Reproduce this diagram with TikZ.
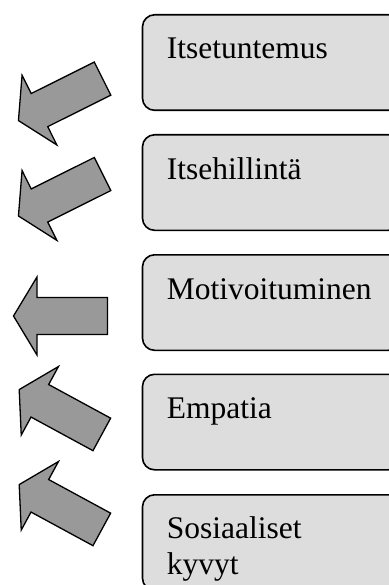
\documentclass[tikz,border=0pt]{standalone}
\usepackage{fontspec}
\setmainfont{Liberation Serif}
\definecolor{boxfill}{HTML}{DDDDDD}
\definecolor{arrowfill}{HTML}{999999}
\tikzset{
  x=1pt, y=1pt,
  topicbox/.style={draw=black, line width=1.6pt, fill=boxfill, rounded corners=12pt,
    minimum width=258pt, minimum height=95.5pt, inner sep=0pt, anchor=north west},
  topiclabel/.style={font=\fontsize{31.5}{37}\selectfont, inner sep=0pt, anchor=base west},
  bigarrow/.pic={
    \draw[line width=1.3pt, line join=miter, fill=arrowfill]
      (-47,0) -- (-23.5,39) -- (-23.5,18.5) -- (47,18.5)
      -- (47,-18.5) -- (-23.5,-18.5) -- (-23.5,-39) -- cycle;
  }
}
\begin{document}
\begin{tikzpicture}
  \useasboundingbox (0,0) rectangle (388,-585);
  % topic boxes, running off the right edge
  \node[topicbox] (b1) at (141.7,-14) {};
  \node[topicbox] (b2) at (141.7,-134) {};
  \node[topicbox] (b3) at (141.7,-254) {};
  \node[topicbox] (b4) at (141.7,-373.5) {};
  \node[topicbox] (b5) at (141.7,-494) {};
  % labels
  \node[topiclabel] (t1) at ([shift={(25,-45)}]b1.north west) {Itsetuntemus};
  \node[topiclabel] (t2) at ([shift={(25,-45)}]b2.north west) {Itsehillintä};
  \node[topiclabel] (t3) at ([shift={(25,-45)}]b3.north west) {Motivoituminen};
  \node[topiclabel] (t4) at ([shift={(25,-45)}]b4.north west) {Empatia};
  \node[topiclabel] (t5) at ([shift={(25,-44)}]b5.north west) {Sosiaaliset};
  \node[topiclabel] (t5b) at ([shift={(25,-80.5)}]b5.north west) {kyvyt};
  % block arrows pointing left
  \pic[rotate=26.5] (a1) at (60.5,-99.6) {bigarrow};
  \pic[rotate=26.5] (a2) at (60.5,-195) {bigarrow};
  \pic (a3) at (60.5,-316) {bigarrow};
  \pic[rotate=-28.5] (a4) at (60.5,-412) {bigarrow};
  \pic[rotate=-28.5] (a5) at (60.5,-507) {bigarrow};
\end{tikzpicture}
\end{document}
